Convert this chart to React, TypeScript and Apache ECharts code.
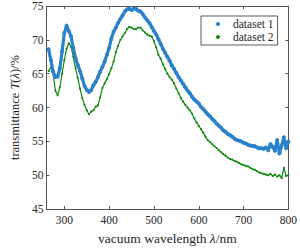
import React, { useEffect, useRef } from "react";
import * as echarts from "echarts";

const wavelengths: number[] = [];
for (let w = 265; w <= 800; w += 5) wavelengths.push(w);

const dataset1: number[] = [
  68.6, 67.0, 65.3, 64.5, 64.6, 65.8, 68.3, 71.0, 72.1, 71.3,
  70.5, 68.8, 67.3, 66.3, 65.4, 64.3, 63.2, 62.6, 62.3, 62.6,
  63.3, 63.8, 64.5, 65.3, 66.0, 66.8, 67.8, 68.8, 70.2, 71.2,
  71.8, 72.5, 73.1, 73.6, 74.2, 74.5, 74.6, 74.4, 74.6, 74.6,
  74.3, 74.2, 73.8, 73.3, 72.9, 72.5, 71.9, 71.3, 70.8, 70.1,
  69.4, 68.7, 68.1, 67.5, 66.9, 66.2, 65.7, 65.1, 64.5, 64.0,
  63.5, 63.0, 62.5, 62.1, 61.6, 61.2, 60.9, 60.6, 60.1, 59.8,
  59.4, 59.0, 58.7, 58.3, 58.0, 57.6, 57.3, 57.0, 56.6, 56.4,
  56.1, 55.9, 55.7, 55.4, 55.2, 55.1, 55.0, 54.8, 54.7, 54.5,
  54.4, 54.3, 54.3, 54.1, 54.0, 54.0, 53.9, 54.1, 53.7, 54.6,
  54.2, 53.6, 55.2, 53.2, 54.4, 55.6, 54.0, 55.0,
];

const dataset2: number[] = [
  65.4, 65.9, 65.0, 62.5, 61.8, 63.0, 65.0, 67.0, 68.7, 69.5,
  69.0, 67.5, 65.8, 64.4, 62.8, 61.4, 60.4, 59.6, 59.0, 59.4,
  59.6, 60.1, 60.3, 61.5, 62.9, 63.6, 64.2, 65.0, 65.8, 66.8,
  68.2, 69.1, 70.0, 70.5, 71.0, 71.6, 71.9, 71.8, 71.6, 71.6,
  71.8, 71.8, 71.4, 71.1, 70.8, 70.6, 70.5, 69.8, 68.9, 67.8,
  67.2, 66.4, 65.7, 65.0, 64.5, 64.1, 63.6, 62.8, 62.1, 61.4,
  60.9, 60.4, 60.0, 59.6, 59.1, 58.4, 57.8, 57.3, 56.8, 56.3,
  55.7, 55.2, 54.9, 54.6, 54.3, 54.0, 53.7, 53.4, 53.1, 52.9,
  52.6, 52.4, 52.3, 52.1, 52.0, 51.8, 51.6, 51.5, 51.4, 51.3,
  51.1, 50.9, 50.8, 50.6, 50.4, 50.3, 50.2, 50.1, 50.0, 50.2,
  49.9, 50.1, 49.8, 50.0, 49.6, 51.1, 49.9, 50.0,
];

const xTicks = [300, 400, 500, 600, 700, 800];
const seriesNames = ["dataset 1", "dataset 2"];

const FONT = "Liberation Serif, DejaVu Serif, serif";
const AXIS = "#555555";
const TEXT = "#262626";
const BLUE = "#2a82cc";
const GREEN = "#0f8a0f";

export default function App() {
  const ref = useRef<HTMLDivElement>(null);
  useEffect(() => {
    if (!ref.current) return;
    const chart = echarts.init(ref.current, null, { renderer: "svg" });
    const tick = { show: true, inside: true, length: 3, lineStyle: { color: AXIS, width: 1 } };
    const line = { show: true, lineStyle: { color: AXIS, width: 1 } };
    const xBase = {
      type: "value" as const,
      min: 260,
      max: 800,
      splitLine: { show: false },
      axisLine: line,
    };
    const yBase = {
      type: "value" as const,
      min: 45,
      max: 75,
      interval: 5,
      splitLine: { show: false },
      axisLine: line,
      axisTick: tick,
    };
    const richX = {
      n: { fontFamily: FONT, fontSize: 13.5, color: TEXT },
      i: { fontFamily: FONT, fontSize: 13.5, color: TEXT, fontStyle: "italic" },
    };
    const richY = {
      n: { fontFamily: FONT, fontSize: 12.5, color: TEXT },
      i: { fontFamily: FONT, fontSize: 12.5, color: TEXT, fontStyle: "italic" },
    };
    chart.setOption({
      animation: false,
      textStyle: { fontFamily: FONT },
      grid: { left: 34.5, right: 8.5, top: 5, bottom: 36, containLabel: false },
      xAxis: [
        {
          ...xBase,
          position: "bottom",
          axisTick: { ...tick, customValues: xTicks },
          axisLabel: { customValues: xTicks, color: TEXT, fontSize: 11.5, fontFamily: FONT, margin: 5 },
          name: "{n|vacuum wavelength }{i|λ}{n|/nm}",
          nameLocation: "middle",
          nameGap: 20,
          nameTextStyle: { fontFamily: FONT, rich: richX },
        },
        {
          ...xBase,
          position: "top",
          axisTick: { ...tick, customValues: xTicks },
          axisLabel: { show: false },
        },
      ],
      yAxis: [
        {
          ...yBase,
          position: "left",
          axisLabel: { color: TEXT, fontSize: 11.5, fontFamily: FONT, margin: 3 },
          name: "{n|transmittance }{i|T}{n|(}{i|λ}{n|)/%}",
          nameLocation: "middle",
          nameGap: 19,
          nameTextStyle: { fontFamily: FONT, rich: richY },
        },
        {
          ...yBase,
          position: "right",
          axisLabel: { show: false },
        },
      ],
      legend: {
        left: 201,
        top: 16,
        orient: "vertical",
        backgroundColor: "#ffffff",
        borderColor: "#333333",
        borderWidth: 0.8,
        borderRadius: 0,
        padding: [2, 4, 2, 15],
        itemWidth: 4,
        itemHeight: 4,
        itemGap: 1,
        data: [
          { name: seriesNames[0], icon: "circle" },
          { name: seriesNames[1], icon: "circle" },
        ],
        textStyle: { fontFamily: FONT, fontSize: 11.5, color: TEXT, padding: [0, 0, 0, 8], lineHeight: 12 },
      },
      series: [
        {
          name: seriesNames[0],
          type: "line",
          symbol: "circle",
          symbolSize: 4,
          showAllSymbol: true,
          itemStyle: { color: BLUE },
          lineStyle: { color: BLUE, width: 3.2 },
          data: wavelengths.map((w, i) => [w, dataset1[i]]),
          z: 3,
        },
        {
          name: seriesNames[1],
          type: "line",
          symbol: "circle",
          symbolSize: 2.2,
          showAllSymbol: true,
          itemStyle: { color: GREEN },
          lineStyle: { color: GREEN, width: 1.2 },
          data: wavelengths.map((w, i) => [w, dataset2[i]]),
          z: 2,
        },
      ],
    });
    return () => chart.dispose();
  }, []);
  return (
    <div
      ref={ref}
      style={{ position: "absolute", left: 0, top: 0, width: 300, height: 250 }}
    />
  );
}
